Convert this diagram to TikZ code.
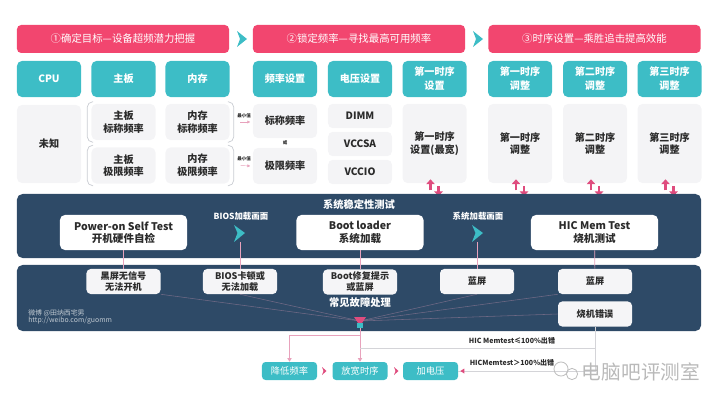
\documentclass[tikz,border=0pt]{standalone}
\usepackage{fontspec}
\setmainfont{Noto Sans CJK SC}
\usetikzlibrary{calc,positioning,arrows.meta,shapes}

\definecolor{cRose}{HTML}{F2466F}
\definecolor{cTeal}{HTML}{3DBDC6}
\definecolor{cPale}{HTML}{F4F4F6}
\definecolor{cNavy}{HTML}{2E4A67}
\definecolor{cPink}{HTML}{DF4C7E}
\definecolor{cInk}{HTML}{2B2B2B}
\definecolor{cWire}{HTML}{E8A2BC}
\definecolor{cGrid}{HTML}{D4D4D8}
\definecolor{cBracket}{HTML}{C9CCD2}
\definecolor{cFault}{HTML}{F5F5F7}

\tikzset{
    headbox/.style={
        rectangle,
        rounded corners=3pt,
        fill=cRose,
        text=white,
        minimum width=5.3cm,
        minimum height=0.7cm,
        font=\fontsize{7.4}{9}\selectfont
    },
    tealbox/.style={
        rectangle,
        rounded corners=3.5pt,
        fill=cTeal,
        text=white,
        minimum width=1.6cm,
        minimum height=0.9cm,
        inner sep=1pt,
        align=center,
        font=\fontsize{7.2}{10}\selectfont\bfseries
    },
    greybox/.style={
        rectangle,
        rounded corners=3.5pt,
        fill=cPale,
        text=cInk,
        minimum width=1.6cm,
        minimum height=0.9cm,
        inner sep=1pt,
        align=center,
        font=\fontsize{7.2}{9}\selectfont\bfseries
    },
    band/.style={
        rectangle,
        rounded corners=4pt,
        fill=cNavy,
        minimum width=17.1cm
    },
    bandtitle/.style={text=white, font=\fontsize{7.3}{9}\selectfont\bfseries},
    stagebox/.style={
        rectangle,
        rounded corners=3.5pt,
        fill=white,
        text=cInk,
        minimum width=3.175cm,
        minimum height=0.875cm,
        inner sep=1pt,
        align=center,
        font=\fontsize{7.5}{8.8}\selectfont\bfseries
    },
    faultbox/.style={
        rectangle,
        rounded corners=3pt,
        fill=cFault,
        text=cInk,
        minimum width=1.85cm,
        minimum height=0.625cm,
        inner sep=1pt,
        align=center,
        font=\fontsize{6.5}{7.8}\selectfont\bfseries
    },
    fixbox/.style={
        rectangle,
        rounded corners=2.5pt,
        fill=cTeal,
        text=white,
        minimum width=1.375cm,
        minimum height=0.45cm,
        inner sep=1pt,
        font=\fontsize{6.6}{8}\selectfont
    },
    steplabel/.style={text=white, font=\fontsize{6}{7}\selectfont\bfseries},
    tinylabel/.style={text=cInk, inner sep=0pt, font=\fontsize{3.2}{4}\selectfont\bfseries},
    hiclabel/.style={text=cInk, inner sep=1pt, font=\fontsize{5}{6}\selectfont\bfseries},
    weibo/.style={text=white!70!cNavy, anchor=west, inner sep=0pt, font=\fontsize{4.9}{6}\selectfont},
    wmark/.style={text=gray!55, font=\fontsize{14}{16}\selectfont},
    bracket/.style={draw=cBracket, line width=0.5pt, rounded corners=4pt},
    minarrow/.style={draw=cWire, line width=0.3pt, -{Triangle[length=2pt,width=2pt]}},
    pinkarrow/.style={draw=cPink, line width=2pt, -{Triangle[length=3.5pt,width=6pt]}},
    faultline/.style={draw=cWire, line width=0.5pt},
    fanline/.style={draw=cWire, line width=0.4pt, opacity=0.35},
    flowline/.style={draw=cWire, line width=0.5pt, -{Triangle[length=2.5pt,width=3pt]}},
    hicline/.style={draw=cGrid, line width=0.5pt}
}

\begin{document}
\begin{tikzpicture}[x=0.025cm, y=-0.025cm]
\useasboundingbox (0,0) rectangle (720,405);

% stage headers
\node[headbox] (goal) at (123,39) {①确定目标—设备超频潜力把握};
\node[headbox] (lock) at (359,39) {②锁定频率—寻找最高可用频率};
\node[headbox] (timing) at (594.5,39) {③时序设置—乘胜追击提高效能};
\fill[cTeal] (237,31) -- (247,39) -- (237,47) -- (240,39) -- cycle;
\fill[cTeal] (473,31) -- (483,39) -- (473,47) -- (476,39) -- cycle;

% teal row
\node[tealbox] (cpu) at (49,79) {CPU};
\node[tealbox] (board) at (123.5,79) {主板};
\node[tealbox] (mem) at (197.5,79) {内存};
\node[tealbox] (freqset) at (285,79) {频率设置};
\node[tealbox] (voltset) at (360,79) {电压设置};
\node[tealbox] (firstset) at (434.5,79) {第一时序\\设置};
\node[tealbox] (adjone) at (520,79) {第一时序\\调整};
\node[tealbox] (adjtwo) at (595,79) {第二时序\\调整};
\node[tealbox] (adjthree) at (669.5,79) {第三时序\\调整};

% grey row
\node[greybox, minimum height=1.95cm] (unknown) at (49,144) {未知};
\node[greybox] (boardnom) at (123.5,122) {主板\\标称频率};
\node[greybox] (boardmax) at (123.5,165.5) {主板\\极限频率};
\node[greybox] (memnom) at (197.5,122) {内存\\标称频率};
\node[greybox] (memmax) at (197.5,165.5) {内存\\极限频率};
\node[greybox, minimum height=0.85cm] (nominal) at (285,121) {标称频率};
\node[greybox] (limit) at (285,166) {极限频率};
\node[tinylabel] (ortext) at (285,143) {或};
\node[greybox, minimum height=0.61cm] (dimm) at (360,116) {DIMM};
\node[greybox, minimum height=0.61cm] (vccsa) at (360,144) {VCCSA};
\node[greybox, minimum height=0.61cm] (vccio) at (360,172) {VCCIO};
\node[greybox, minimum height=1.975cm] (widest) at (434.5,143.5) {第一时序\\设置(最宽)};
\node[greybox, minimum height=1.975cm] (tuneone) at (520,143.5) {第一时序\\调整};
\node[greybox, minimum height=1.975cm] (tunetwo) at (595,143.5) {第二时序\\调整};
\node[greybox, minimum height=1.975cm] (tunethree) at (669.5,143.5) {第三时序\\调整};

% brackets round the board/memory pairs
\draw[bracket] ($(boardnom.north west)+(2,-2)$) -- ++(-6,0) -- ($(boardnom.south west)+(-4,2)$) -- ++(6,0);
\draw[bracket] ($(memnom.north east)+(-2,-2)$) -- ++(6,0) -- ($(memnom.south east)+(4,2)$) -- ++(-6,0);
\draw[bracket] ($(boardmax.north west)+(2,-2)$) -- ++(-6,0) -- ($(boardmax.south west)+(-4,2)$) -- ++(6,0);
\draw[bracket] ($(memmax.north east)+(-2,-2)$) -- ++(6,0) -- ($(memmax.south east)+(4,2)$) -- ++(-6,0);

\node[tinylabel] (minone) at (244,115.5) {最小值};
\node[tinylabel] (mintwo) at (244,159) {最小值};
\draw[minarrow] ($(memnom.east)+(10.5,0)$) -- ($(nominal.west)+(-2.5,1)$);
\draw[minarrow] ($(memmax.east)+(10.5,0)$) -- ($(limit.west)+(-2.5,0)$);

% up/down arrows to the test band
\draw[pinkarrow] ($(widest.south)+(-4,7)$) -- ($(widest.south)+(-4,-4)$);
\draw[pinkarrow] ($(widest.south)+(4,3)$) -- ($(widest.south)+(4,13)$);
\draw[pinkarrow] ($(tuneone.south)+(-4,7)$) -- ($(tuneone.south)+(-4,-4)$);
\draw[pinkarrow] ($(tuneone.south)+(4,3)$) -- ($(tuneone.south)+(4,13)$);
\draw[pinkarrow] ($(tunetwo.south)+(-4,7)$) -- ($(tunetwo.south)+(-4,-4)$);
\draw[pinkarrow] ($(tunetwo.south)+(4,3)$) -- ($(tunetwo.south)+(4,13)$);
\draw[pinkarrow] ($(tunethree.south)+(-4,7)$) -- ($(tunethree.south)+(-4,-4)$);
\draw[pinkarrow] ($(tunethree.south)+(4,3)$) -- ($(tunethree.south)+(4,13)$);

% stability test band
\node[band, minimum height=1.6cm] (stress) at (359,226) {};
\node[bandtitle] (stresstitle) at (359,205) {系统稳定性测试};
\node[stagebox] (post) at (123.5,232.5) {Power-on Self Test\\开机硬件自检};
\node[stagebox] (boot) at (360,232.5) {Boot loader\\系统加载};
\node[stagebox] (hic) at (594.5,232.5) {HIC Mem Test\\烧机测试};
\coordinate (biosload) at (240,233);
\coordinate (sysload) at (478,233);
\fill[cTeal] (234,225) -- (245,233) -- (234,242) -- (237.5,233) -- cycle;
\fill[cTeal] (472,225) -- (483,233) -- (472,242) -- (475.5,233) -- cycle;
\node[steplabel] (biostext) at (241,216) {BIOS加载画面};
\node[steplabel] (systext) at (478,216) {系统加载画面};

% fault band
\node[band, minimum height=1.65cm] (faults) at (359,298) {};
\node[faultbox] (blackscr) at (123.5,281.5) {黑屏无信号\\无法开机};
\node[faultbox] (biosfail) at (240,281.5) {BIOS卡顿或\\无法加载};
\node[faultbox] (bootfix) at (360,282) {Boot修复提示\\或蓝屏};
\node[faultbox] (bsodone) at (477,281.5) {蓝屏};
\node[faultbox] (bsodtwo) at (595,281.5) {蓝屏};
\node[faultbox] (burnerr) at (595,314) {烧机错误};
\node[bandtitle] (faulttitle) at (360,303) {常见故障处理};
\node[weibo] (wbname) at (28,313) {微博 @田纳西宅男};
\node[weibo] (wburl) at (28,321) {http://weibo.com/guomm};

\draw[faultline] (post) -- (blackscr);
\draw[faultline] ($(biosload)+(0,9)$) -- (biosfail.north);
\draw[faultline] (boot) -- (bootfix);
\draw[faultline] ($(sysload)+(-1,9)$) -- (bsodone.north);
\draw[faultline] (hic) -- (bsodtwo);

% fan into the funnel
\coordinate (funnel) at (360,321);
\draw[fanline] (blackscr.south east) -- (funnel);
\draw[fanline] (biosfail.south) -- (funnel);
\draw[fanline] (bsodone.south) -- (funnel);
\draw[fanline] (bsodtwo.south west) -- (funnel);
\draw[fanline] (burnerr.west) -- (funnel);
\fill[cPink] ($(funnel)+(-6,-4)$) -- ($(funnel)+(6,-4)$) -- ($(funnel)+(2,2)$) -- ($(funnel)+(-2,2)$) -- cycle;
\fill[cTeal] ($(funnel)+(-3,2)$) rectangle ($(funnel)+(3,7)$);

% fixes
\node[fixbox] (lowfreq) at (289.5,371) {降低频率};
\node[fixbox] (widen) at (360,371) {放宽时序};
\node[fixbox] (addvolt) at (430.5,371) {加电压};
\fill[cPink] (322,367) -- (326.5,371) -- (322,375) -- (323.5,371) -- cycle;
\fill[cPink] (394,367) -- (398.5,371) -- (394,375) -- (395.5,371) -- cycle;

\draw[flowline] ($(funnel)+(0,7)$) -- (widen.north);
\draw[flowline] ($(funnel)+(0,14)$) -| (lowfreq.north);

\coordinate (hicsplit) at ($(burnerr.south)+(0,21.5)$);
\draw[hicline] (burnerr.south) |- (addvolt.east);
\draw[hicline] (hicsplit) -- (hicsplit -| widen.north);
\fill[cPink] ($(addvolt.east)+(2,0)$) -- ++(4,-2.5) -- ++(0,5) -- cycle;
\node[hiclabel] (lowfail) at (512,341) {HIC Memtest≤100\%出错};
\node[hiclabel] (highfail) at (512,363) {HICMemtest＞100\%出错};

% watermark
\draw[gray!50, line width=0.6pt] (561,369) circle [radius=5pt];
\draw[gray!50, line width=0.6pt] (572,374) circle [radius=4pt];
\node[wmark] (wm) at (641,372) {电脑吧评测室};
\end{tikzpicture}
\end{document}
